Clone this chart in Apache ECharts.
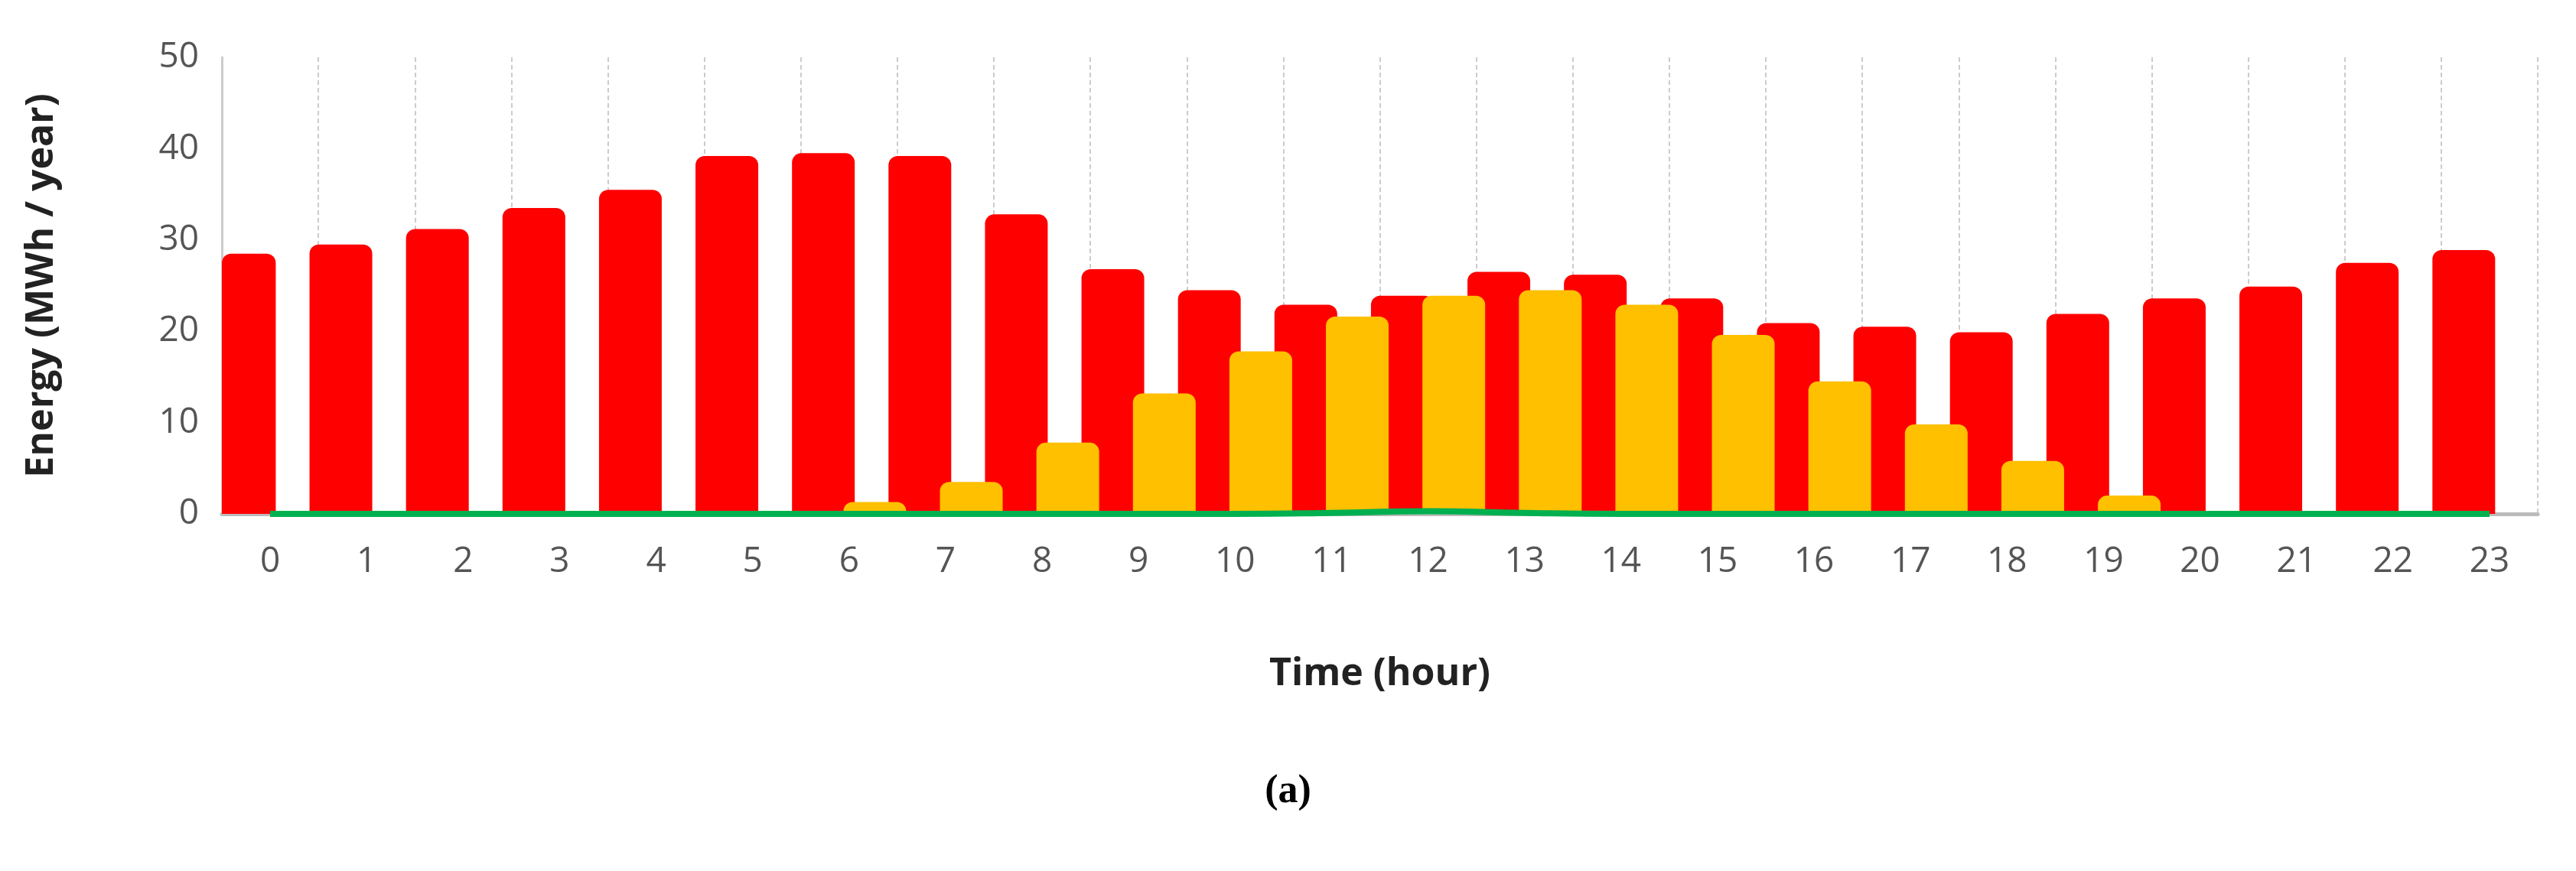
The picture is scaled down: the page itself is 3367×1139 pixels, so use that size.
<!DOCTYPE html>
<html><head><meta charset="utf-8">
<script src="https://cdn.jsdelivr.net/npm/echarts@6/dist/echarts.min.js"></script>
<style>html,body{margin:0;background:#fff}#c{width:3367px;height:1139px}</style>
</head><body><div id="c"></div>
<script>
const hours = ['0','1','2','3','4','5','6','7','8','9','10','11','12','13','14','15','16','17','18','19','20','21','22','23'];
const demand = [28.5,29.5,31.2,33.5,35.5,39.2,39.5,39.2,32.8,26.8,24.5,22.9,23.9,26.5,26.2,23.6,20.9,20.5,19.9,21.9,23.6,24.9,27.5,28.9];
const solar = [0,0,0,0,0,0,1.3,3.5,7.8,13.2,17.8,21.6,23.9,24.5,22.9,19.6,14.5,9.8,5.8,2.0,0,0,0,0];
const other = [0,0,0,0,0,0,0,0,0,0,0,0.1,0.3,0.1,0,0,0,0,0,0,0,0,0,0];
const yTicks = [0,10,20,30,40,50];

const chart = echarts.init(document.getElementById('c'));
chart.setOption({
  animation:false,
  graphic:[{type:'text',left:'center',top:1010,style:{text:'(a)',font:'bold 52px "Liberation Serif"',fill:'#000'}}],
  grid:{left:290,right:50,top:75,bottom:467},
  xAxis:{type:'category',data:hours,
    name:'Time (hour)',nameLocation:'middle',nameGap:185,
    nameTextStyle:{fontFamily:'Open Sans',fontWeight:'bold',fontSize:50,color:'#222'},
    axisLine:{lineStyle:{color:'#bbb',width:5}},axisTick:{show:false},
    axisLabel:{fontFamily:'Open Sans',fontSize:46,color:'#555',margin:40},
    splitLine:{show:true,lineStyle:{color:'#ccc',width:2,type:[6,4]}}},
  yAxis:{type:'value',min:0,max:50,interval:10,
    name:'Energy (MWh / year)',nameLocation:'middle',nameGap:210,
    nameTextStyle:{fontFamily:'Open Sans',fontWeight:'bold',fontSize:50,color:'#222'},
    axisLine:{show:true,lineStyle:{color:'#ccc',width:3}},
    axisLabel:{fontFamily:'Open Sans',fontSize:46,color:'#555',margin:30,
      formatter:v=>yTicks.includes(v)?String(v):''},
    splitLine:{show:false}},
  series:[
    {type:'bar',data:demand,barWidth:82,barGap:'-18%',itemStyle:{color:'#ff0000',borderRadius:[12,12,0,0]}},
    {type:'bar',data:solar,barWidth:82,itemStyle:{color:'#ffc000',borderRadius:[12,12,0,0]}},
    {type:'line',data:other,symbol:'none',smooth:true,lineStyle:{color:'#00b050',width:8},z:5}
  ]
});
</script></body></html>
